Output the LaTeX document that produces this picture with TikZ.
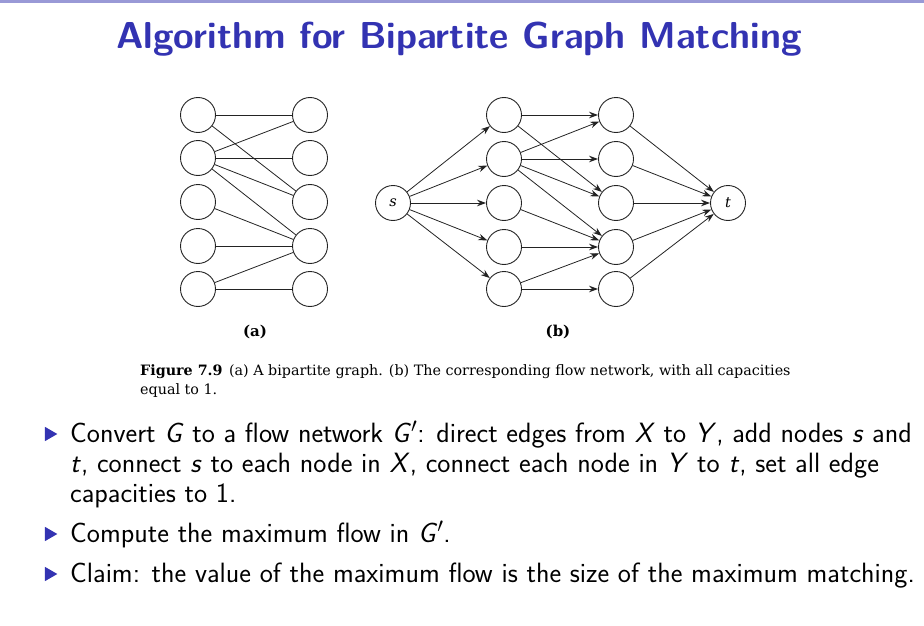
\documentclass[tikz,border=0pt]{standalone}
\usepackage{fontspec}
\setsansfont{Latin Modern Sans}
\newfontfamily\capfont{DejaVu Serif}
\usetikzlibrary{arrows.meta,shapes.geometric}
\definecolor{struct}{RGB}{51,51,178}
\definecolor{barcol}{RGB}{153,153,214}
\definecolor{ln}{RGB}{35,35,35}
\newcommand\mvar[1]{{\itshape #1\/}}
\begin{document}
\begin{tikzpicture}[x=1pt,y=-1pt,
  vtx/.style={circle,draw=ln,line width=0.9pt,minimum size=35pt,inner sep=0pt,
    font=\capfont\itshape\fontsize{14.5}{16}\selectfont},
  edg/.style={draw=ln,line width=0.8pt},
  arr/.style={edg,-{Stealth[length=9pt,width=6.5pt]}},
  bul/.style={isosceles triangle,isosceles triangle apex angle=60,fill=struct,
    minimum height=12.5pt,inner sep=0pt},
  body/.style={anchor=base west,inner sep=0pt,
    font=\sffamily\fontsize{27.9}{30}\selectfont},
  capt/.style={anchor=base west,inner sep=0pt,font=\capfont\fontsize{14.3}{17}\selectfont},
  sub/.style={inner sep=0pt,font=\capfont\bfseries\fontsize{15}{17}\selectfont},
  ttl/.style={inner sep=0pt,text=struct,font=\sffamily\bfseries\fontsize{37.5}{42}\selectfont}
]
\useasboundingbox (0,0) rectangle (924,626);
\fill[barcol] (0,0) rectangle (924,3);
\node[ttl,anchor=base] (title) at (459,49) {Algorithm for Bipartite Graph Matching};

% graph (a)
\foreach \i/\y in {1/115,2/158,3/202,4/246,5/289}{
  \node[vtx] (aL\i) at (198,\y) {};
  \node[vtx] (aR\i) at (310,\y) {};
}
\foreach \a/\b in {1/1,1/3,2/1,2/2,2/3,2/4,3/4,4/4,5/4,5/5}
  \draw[edg] (aL\a) -- (aR\b);

% graph (b)
\node[vtx] (s) at (393,203) {s};
\node[vtx] (t) at (728,203) {t};
\foreach \i/\y in {1/115,2/159,3/203,4/247,5/289}{
  \node[vtx] (bX\i) at (504,\y) {};
  \node[vtx] (bY\i) at (616,\y) {};
}
\foreach \i in {1,...,5}{
  \draw[arr] (s) -- (bX\i);
  \draw[arr] (bY\i) -- (t);
}
\foreach \a/\b in {1/1,1/3,2/1,2/2,2/3,2/4,3/4,4/4,5/4,5/5}
  \draw[arr] (bX\a) -- (bY\b);

\node[sub] (la) at (255,332) {(a)};
\node[sub] (lb) at (558,332) {(b)};

\node[capt] (cap1) at (140,375) {\textbf{Figure 7.9}\hspace{0.45em}(a) A bipartite graph. (b) The corresponding flow network, with all capacities};
\node[capt] (cap2) at (140,394) {equal to 1.};

% bullets
\node[bul] (u1) at (49,434) {};
\node[bul] (u2) at (49,534) {};
\node[bul] (u3) at (49,574) {};
\node[body] (l1) at (70,442) {Convert \mvar{G} to a flow network \mvar{G}$'$: direct edges from \mvar{X} to \mvar{Y}, add nodes \mvar{s} and};
\node[body] (l2) at (70,472) {\mvar{t}, connect \mvar{s} to each node in \mvar{X}, connect each node in \mvar{Y} to \mvar{t}, set all edge};
\node[body] (l3) at (70,502) {capacities to 1.};
\node[body] (l4) at (70,542) {Compute the maximum flow in \mvar{G}$'$.};
\node[body] (l5) at (70,582) {Claim: the value of the maximum flow is the size of the maximum matching.};
\end{tikzpicture}
\end{document}
